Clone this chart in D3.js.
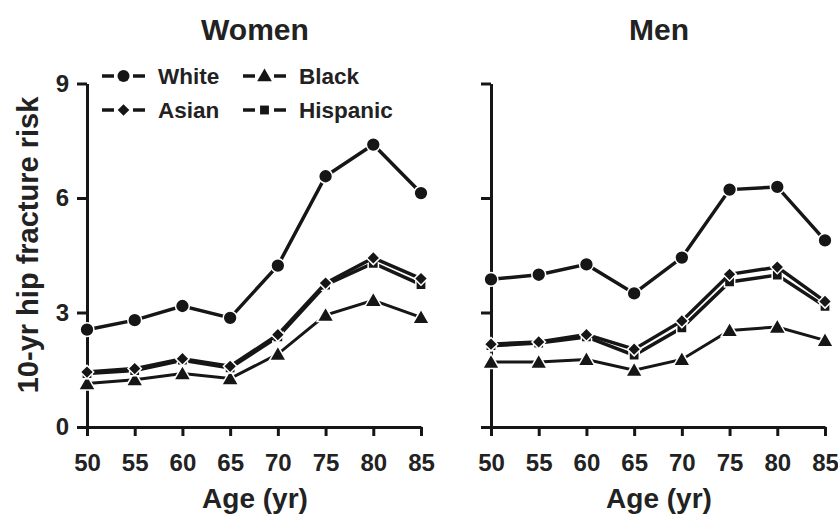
<!DOCTYPE html>
<html>
<head>
<meta charset="utf-8">
<script src="https://cdn.jsdelivr.net/npm/d3@7"></script>
<style>
  body { margin: 0; background: #fff; }
  svg { font-family: "Liberation Sans", Arial, sans-serif; font-weight: bold; }
</style>
</head>
<body>
<div id="chart"></div>
<script>
const ages = [50, 55, 60, 65, 70, 75, 80, 85];
const yTicks = [0, 3, 6, 9];

// women
const womenWhite = [2.55, 2.8, 3.17, 2.86, 4.23, 6.57, 7.4, 6.13];
const womenAsian = [1.44, 1.53, 1.79, 1.59, 2.42, 3.77, 4.43, 3.89];
const womenHispanic = [1.4, 1.48, 1.75, 1.55, 2.36, 3.72, 4.29, 3.73];
const womenBlack = [1.14, 1.24, 1.4, 1.27, 1.91, 2.93, 3.32, 2.87];

// men
const menWhite = [3.87, 3.99, 4.26, 3.5, 4.44, 6.22, 6.29, 4.89];
const menAsian = [2.17, 2.23, 2.42, 2.04, 2.78, 4.0, 4.19, 3.29];
const menHispanic = [2.13, 2.2, 2.36, 1.88, 2.6, 3.8, 3.98, 3.16];
const menBlack = [1.7, 1.7, 1.77, 1.49, 1.77, 2.53, 2.62, 2.27];

const panels = [
  { title: "Women", x0: 87, series: { White: womenWhite, Asian: womenAsian, Hispanic: womenHispanic, Black: womenBlack }, yLabels: true },
  { title: "Men", x0: 491, series: { White: menWhite, Asian: menAsian, Hispanic: menHispanic, Black: menBlack }, yLabels: false }
];

// diamond = square turned 45 degrees
const shapes = {
  White: d3.symbolCircle,
  Black: d3.symbolTriangle,
  Asian: d3.symbolSquare,
  Hispanic: d3.symbolSquare
};
const turn = { White: 0, Black: 0, Asian: 45, Hispanic: 0 };
const sizes = { White: 150, Black: 125, Asian: 90, Hispanic: 105 };
const drawOrder = ["Black", "Hispanic", "Asian", "White"];
const ink = "#161616";
const font = "Liberation Sans, Arial, sans-serif";

const width = 838, height = 519;
const svg = d3.select("#chart").append("svg")
  .attr("width", width).attr("height", height);

const y = d3.scaleLinear().domain([0, 9]).range([427, 83.5]);
const panelW = 334;

panels.forEach(p => {
  const x = d3.scaleLinear().domain([50, 85]).range([p.x0, p.x0 + panelW]);
  const g = svg.append("g");

  // x axis
  const xa = g.append("g")
    .attr("transform", `translate(0,${y(0)})`)
    .call(d3.axisBottom(x).tickValues(ages).tickSize(9).tickPadding(18).tickSizeOuter(0));
  xa.select(".domain").attr("stroke", ink).attr("stroke-width", 3);
  xa.selectAll(".tick line").attr("stroke", ink).attr("stroke-width", 3);
  xa.selectAll(".tick text").attr("font-size", 24).attr("font-weight", "bold")
    .attr("font-family", font).attr("fill", "#222");

  // y axis
  const ya = g.append("g")
    .attr("transform", `translate(${p.x0},0)`)
    .call(d3.axisLeft(y).tickValues(yTicks).tickSize(10).tickPadding(8).tickSizeOuter(0));
  ya.select(".domain").attr("stroke", ink).attr("stroke-width", 3);
  ya.selectAll(".tick line").attr("stroke", ink).attr("stroke-width", 3);
  ya.selectAll(".tick text").attr("font-size", 24).attr("font-weight", "bold")
    .attr("font-family", font).attr("fill", "#222");
  if (!p.yLabels) ya.selectAll(".tick text").remove();

  // titles
  g.append("text")
    .attr("x", p.x0 + panelW / 2 + 1)
    .attr("y", 40)
    .attr("text-anchor", "middle")
    .attr("font-size", 30)
    .attr("fill", "#222")
    .text(p.title);

  g.append("text")
    .attr("x", p.x0 + panelW / 2 + 1)
    .attr("y", 508)
    .attr("text-anchor", "middle")
    .attr("font-size", 28)
    .attr("fill", "#222")
    .text("Age (yr)");

  const line = d3.line().x((d, i) => x(ages[i])).y(d => y(d));

  drawOrder.forEach(name => {
    const vals = p.series[name];
    g.append("path")
      .datum(vals)
      .attr("d", line)
      .attr("fill", "none")
      .attr("stroke", ink)
      .attr("stroke-width", name === "Black" ? 3 : 3.5);
    g.selectAll(null)
      .data(vals)
      .enter()
      .append("path")
      .attr("transform", (d, i) =>
        `translate(${x(ages[i])},${y(d) + (name === "Black" ? 1.5 : 0)}) rotate(${turn[name]})`)
      .attr("d", d3.symbol().type(shapes[name]).size(sizes[name]))
      .attr("fill", ink)
      .attr("stroke", "#fff")
      .attr("stroke-width", 1.5);
  });
});

// y axis label
svg.append("text")
  .attr("transform", "translate(38,245) rotate(-90)")
  .attr("text-anchor", "middle")
  .attr("font-size", 29)
  .attr("fill", "#222")
  .text("10-yr hip fracture risk");

// legend
const legendItems = [
  { name: "White", lx: 102, ly: 76 },
  { name: "Black", lx: 243, ly: 76 },
  { name: "Asian", lx: 102, ly: 110 },
  { name: "Hispanic", lx: 243, ly: 110 }
];
const lg = svg.append("g");
legendItems.forEach(it => {
  [[0, 12], [31, 43]].forEach(seg => {
    lg.append("line")
      .attr("x1", it.lx + seg[0]).attr("x2", it.lx + seg[1])
      .attr("y1", it.ly).attr("y2", it.ly)
      .attr("stroke", ink).attr("stroke-width", 3.5);
  });
  lg.append("path")
    .attr("transform", `translate(${it.lx + 21.5},${it.ly + (it.name === "Black" ? 1 : 0)}) rotate(${turn[it.name]})`)
    .attr("d", d3.symbol().type(shapes[it.name]).size(sizes[it.name] * 0.75))
    .attr("fill", ink);
  lg.append("text")
    .attr("x", it.lx + 56)
    .attr("y", it.ly + 8)
    .attr("font-size", 22.5)
    .attr("fill", "#222")
    .text(it.name);
});
</script>
</body>
</html>
